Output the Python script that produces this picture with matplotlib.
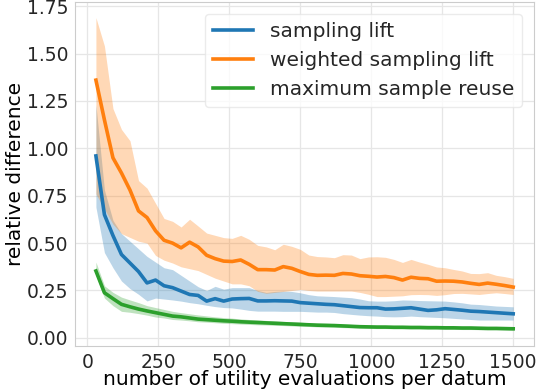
import numpy as np
import matplotlib
matplotlib.use('Agg')
import matplotlib.pyplot as plt

# evaluations per datum
evals = np.arange(30, 1501, 30)

lift_mean = [0.96, 0.65, 0.54, 0.44, 0.395, 0.35, 0.29, 0.305, 0.275, 0.265,
             0.247, 0.229, 0.224, 0.194, 0.207, 0.194, 0.205, 0.207, 0.208, 0.195,
             0.195, 0.196, 0.195, 0.194, 0.186, 0.183, 0.180, 0.177, 0.175, 0.170,
             0.165, 0.160, 0.159, 0.159, 0.152, 0.153, 0.156, 0.159, 0.152, 0.145,
             0.148, 0.154, 0.150, 0.146, 0.141, 0.139, 0.136, 0.133, 0.130, 0.127]
lift_hi = [1.23, 0.78, 0.62, 0.55, 0.51, 0.47, 0.43, 0.40, 0.37, 0.36,
           0.33, 0.30, 0.27, 0.25, 0.272, 0.257, 0.265, 0.265, 0.265, 0.25,
           0.24, 0.245, 0.247, 0.245, 0.238, 0.228, 0.222, 0.220, 0.218, 0.215,
           0.212, 0.205, 0.196, 0.194, 0.194, 0.196, 0.200, 0.199, 0.197, 0.196,
           0.195, 0.194, 0.190, 0.185, 0.178, 0.176, 0.172, 0.168, 0.166, 0.164]
lift_lo = [0.69, 0.45, 0.37, 0.30, 0.26, 0.23, 0.195, 0.21, 0.205, 0.20,
           0.194, 0.186, 0.18, 0.172, 0.165, 0.16, 0.158, 0.152, 0.145, 0.141,
           0.141, 0.141, 0.140, 0.140, 0.140, 0.138, 0.136, 0.136, 0.134, 0.128,
           0.124, 0.120, 0.117, 0.115, 0.112, 0.111, 0.112, 0.115, 0.112, 0.110,
           0.108, 0.106, 0.103, 0.100, 0.097, 0.094, 0.094, 0.094, 0.094, 0.094]

wlift_mean = [1.36, 1.15, 0.95, 0.87, 0.78, 0.67, 0.635, 0.565, 0.515, 0.50,
              0.475, 0.505, 0.48, 0.436, 0.418, 0.405, 0.403, 0.411, 0.388, 0.360,
              0.360, 0.358, 0.376, 0.367, 0.350, 0.335, 0.330, 0.331, 0.330, 0.340,
              0.337, 0.328, 0.325, 0.321, 0.324, 0.318, 0.305, 0.320, 0.314, 0.312,
              0.299, 0.300, 0.299, 0.295, 0.288, 0.282, 0.289, 0.283, 0.276, 0.268]
wlift_hi = [1.69, 1.54, 1.21, 1.10, 1.04, 0.83, 0.79, 0.71, 0.63, 0.615,
            0.585, 0.626, 0.59, 0.553, 0.541, 0.529, 0.525, 0.541, 0.52, 0.488,
            0.48, 0.465, 0.494, 0.483, 0.467, 0.437, 0.429, 0.427, 0.423, 0.439,
            0.437, 0.418, 0.427, 0.428, 0.425, 0.414, 0.398, 0.414, 0.400, 0.388,
            0.374, 0.370, 0.361, 0.353, 0.340, 0.339, 0.344, 0.330, 0.323, 0.314]
wlift_lo = [0.76, 0.68, 0.60, 0.55, 0.53, 0.51, 0.50, 0.435, 0.41, 0.395,
            0.375, 0.365, 0.355, 0.335, 0.315, 0.30, 0.285, 0.285, 0.275, 0.245,
            0.235, 0.24, 0.245, 0.25, 0.256, 0.25, 0.247, 0.247, 0.247, 0.247,
            0.247, 0.24, 0.23, 0.218, 0.218, 0.22, 0.222, 0.228, 0.229, 0.228,
            0.224, 0.228, 0.234, 0.235, 0.232, 0.229, 0.234, 0.238, 0.234, 0.229]

reuse_mean = [0.353, 0.238, 0.207, 0.177, 0.164, 0.152, 0.142, 0.133, 0.124, 0.115,
              0.111, 0.105, 0.099, 0.096, 0.093, 0.090, 0.088, 0.085, 0.083, 0.081,
              0.079, 0.077, 0.075, 0.073, 0.071, 0.069, 0.067, 0.066, 0.065, 0.063,
              0.061, 0.059, 0.058, 0.057, 0.057, 0.056, 0.056, 0.055, 0.055, 0.054,
              0.054, 0.053, 0.053, 0.052, 0.052, 0.051, 0.050, 0.050, 0.049, 0.048]
reuse_hi = [0.40, 0.275, 0.24, 0.215, 0.20, 0.186, 0.17, 0.16, 0.15, 0.14,
            0.133, 0.127, 0.121, 0.116, 0.111, 0.107, 0.104, 0.100, 0.097, 0.095,
            0.092, 0.090, 0.087, 0.085, 0.083, 0.080, 0.078, 0.077, 0.075, 0.073,
            0.071, 0.069, 0.068, 0.067, 0.066, 0.065, 0.065, 0.064, 0.064, 0.063,
            0.063, 0.062, 0.062, 0.061, 0.061, 0.060, 0.059, 0.059, 0.058, 0.057]
reuse_lo = [0.33, 0.21, 0.17, 0.14, 0.135, 0.128, 0.12, 0.11, 0.105, 0.097,
            0.094, 0.090, 0.085, 0.083, 0.080, 0.077, 0.075, 0.073, 0.071, 0.069,
            0.068, 0.066, 0.065, 0.063, 0.061, 0.060, 0.058, 0.057, 0.056, 0.054,
            0.053, 0.051, 0.050, 0.049, 0.049, 0.048, 0.048, 0.047, 0.047, 0.046,
            0.046, 0.045, 0.045, 0.044, 0.044, 0.043, 0.042, 0.042, 0.041, 0.040]

series = [
    ('sampling lift', lift_mean, lift_lo, lift_hi, '#1f77b4'),
    ('weighted sampling lift', wlift_mean, wlift_lo, wlift_hi, '#ff7f0e'),
    ('maximum sample reuse', reuse_mean, reuse_lo, reuse_hi, '#2ca02c'),
]

plt.rcParams['font.family'] = 'DejaVu Sans'
plt.rcParams['axes.edgecolor'] = '#cccccc'
plt.rcParams['text.color'] = '#262626'

fig = plt.figure(figsize=(5.4, 3.9), dpi=100)
ax = fig.add_axes([0.139, 0.113, 0.850, 0.882])

for label, mean, lo, hi, color in series:
    ax.fill_between(evals, lo, hi, color=color, alpha=0.3, linewidth=0)
    ax.plot(evals, mean, color=color, lw=2.6, label=label)

ax.grid(True, color='#e6e6e6', lw=0.9)
ax.set_axisbelow(True)
ax.tick_params(length=0, labelsize=13.5, pad=5, colors='#262626')
ax.set_xticks([0, 250, 500, 750, 1000, 1250, 1500])
ax.set_yticks(np.arange(0, 1.76, 0.25))
ax.set_xlabel('number of utility evaluations per datum', fontsize=14.5, labelpad=-1)
ax.set_ylabel('relative difference', fontsize=14.5, labelpad=1)

ax.legend(loc='upper right', fontsize=14.5, frameon=True, framealpha=0.8,
          edgecolor='#e6e6e6', handlelength=2.0, borderaxespad=0.6)

fig.savefig('out.png', dpi=100)
